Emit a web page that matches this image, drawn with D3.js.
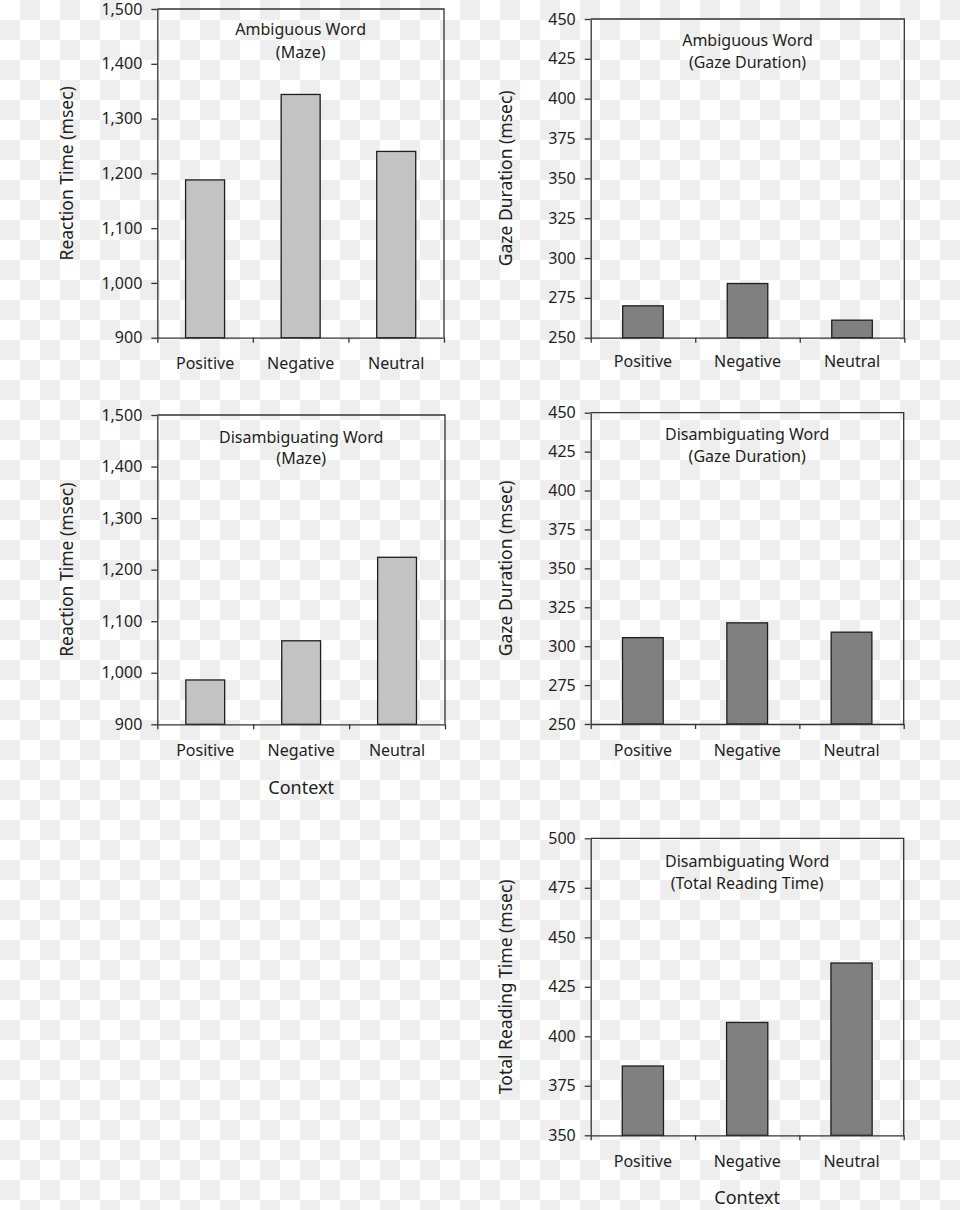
<!DOCTYPE html>
<html>
<head>
<meta charset="utf-8">
<script src="https://cdn.jsdelivr.net/npm/d3@7"></script>
<style>
  html, body { margin: 0; padding: 0; background: #fff; }
  svg { display: block; }
  text { font-family: "Noto Sans", sans-serif; fill: #231f20; }
</style>
</head>
<body>
<svg id="chart" width="960" height="1210"></svg>
<script>
// ---- data ----
const categories = ["Positive", "Negative", "Neutral"];
const mazeAmbiguous = [1188, 1344, 1240];
const gazeAmbiguous = [270, 284, 261];
const mazeDisambiguating = [986, 1062, 1224];
const gazeDisambiguating = [305.5, 315, 309];
const totalDisambiguating = [385, 407, 437];

const rtTicks = [900, 1000, 1100, 1200, 1300, 1400, 1500];
const gazeTicks = [250, 275, 300, 325, 350, 375, 400, 425, 450];
const totalTicks = [350, 375, 400, 425, 450, 475, 500];

const titleAmbiguous = "Ambiguous Word";
const titleDisambiguating = "Disambiguating Word";
const subMaze = "(Maze)";
const subGaze = "(Gaze Duration)";
const subTotal = "(Total Reading Time)";
const yTitleRT = "Reaction Time (msec)";
const yTitleGaze = "Gaze Duration (msec)";
const yTitleTotal = "Total Reading Time (msec)";
const xTitle = "Context";

// ---- layout ----
const svg = d3.select("#chart");
const defs = svg.append("defs");
const pat = defs.append("pattern").attr("id", "checker")
  .attr("width", 40).attr("height", 40).attr("patternUnits", "userSpaceOnUse");
pat.append("rect").attr("width", 40).attr("height", 40).attr("fill", "#ffffff");
pat.append("rect").attr("x", 20).attr("y", 0).attr("width", 20).attr("height", 20).attr("fill", "#eeeeee");
pat.append("rect").attr("x", 0).attr("y", 20).attr("width", 20).attr("height", 20).attr("fill", "#eeeeee");
svg.append("rect").attr("width", 960).attr("height", 1210).attr("fill", "url(#checker)");

const light = "#c3c3c3", dark = "#808080";

const panels = [
  { x0: 157.3, x1: 444, y0: 9, y1: 337.7, values: mazeAmbiguous, ticks: rtTicks, fmt: d3.format(","), bwf: 0.408,
    fill: light, t1: titleAmbiguous, t2: subMaze, t1y: 35, t2y: 58, ytitle: yTitleRT, ytx: 66, lby: 369, ctx: null },
  { x0: 590.7, x1: 904.3, y0: 19, y1: 337.7, values: gazeAmbiguous, ticks: gazeTicks, fmt: d3.format("d"), bwf: 0.388,
    fill: dark, t1: titleAmbiguous, t2: subGaze, t1y: 45.7, t2y: 68, ytitle: yTitleGaze, ytx: 505, lby: 367, ctx: null },
  { x0: 157.3, x1: 445, y0: 415, y1: 724.3, values: mazeDisambiguating, ticks: rtTicks, fmt: d3.format(","), bwf: 0.405,
    fill: light, t1: titleDisambiguating, t2: subMaze, t1y: 442.7, t2y: 464, ytitle: yTitleRT, ytx: 66, lby: 756, ctx: 793.5 },
  { x0: 590.7, x1: 903.7, y0: 412.7, y1: 724, values: gazeDisambiguating, ticks: gazeTicks, fmt: d3.format("d"), bwf: 0.39,
    fill: dark, t1: titleDisambiguating, t2: subGaze, t1y: 439.5, t2y: 462, ytitle: yTitleGaze, ytx: 505, lby: 756, ctx: null },
  { x0: 590.7, x1: 903.7, y0: 838.3, y1: 1135.3, values: totalDisambiguating, ticks: totalTicks, fmt: d3.format("d"), bwf: 0.395,
    fill: dark, t1: titleDisambiguating, t2: subTotal, t1y: 866.7, t2y: 888.5, ytitle: yTitleTotal, ytx: 505, lby: 1167, ctx: 1203.5 }
];

panels.forEach(p => {
  const g = svg.append("g");
  const x = d3.scaleBand().domain(categories).range([p.x0, p.x1]).padding(0);
  const xEdge = d3.scaleLinear().domain([0, categories.length]).range([p.x0, p.x1]);
  const y = d3.scaleLinear().domain([p.ticks[0], p.ticks[p.ticks.length - 1]]).range([p.y1, p.y0]);
  const bw = x.bandwidth() * p.bwf;

  // bars
  g.selectAll("rect.bar").data(p.values).join("rect")
    .attr("class", "bar")
    .attr("x", (d, i) => x(categories[i]) + x.bandwidth() / 2 - bw / 2)
    .attr("width", bw)
    .attr("y", d => y(d))
    .attr("height", d => y(p.ticks[0]) - y(d))
    .attr("fill", p.fill)
    .attr("stroke", "#1e1e1e")
    .attr("stroke-width", 1.3);

  // top and right frame
  g.append("path")
    .attr("d", `M${p.x0},${p.y0}H${p.x1}V${p.y1}`)
    .attr("fill", "none").attr("stroke", "#333").attr("stroke-width", 1.3);

  // left axis
  const yAxis = d3.axisLeft(y).tickValues(p.ticks).tickFormat(p.fmt).tickSize(6).tickSizeOuter(0).tickPadding(9);
  const ya = g.append("g").attr("transform", `translate(${p.x0},0)`).call(yAxis);
  ya.select(".domain").attr("stroke", "#333").attr("stroke-width", 1.3);
  ya.selectAll(".tick line").attr("stroke", "#333").attr("stroke-width", 1.3);
  ya.selectAll(".tick text").attr("font-size", 16).attr("font-family", "Noto Sans").attr("fill", "#231f20");

  // bottom axis with ticks at category boundaries
  const xAxis = d3.axisBottom(xEdge).tickValues(d3.range(categories.length + 1)).tickFormat("").tickSize(5).tickSizeOuter(0);
  const xa = g.append("g").attr("transform", `translate(0,${p.y1})`).call(xAxis);
  xa.select(".domain").attr("stroke", "#333").attr("stroke-width", 1.3);
  xa.selectAll(".tick line").attr("stroke", "#333").attr("stroke-width", 1.3);

  // category labels
  g.selectAll("text.cat").data(categories).join("text")
    .attr("class", "cat")
    .attr("x", d => x(d) + x.bandwidth() / 2)
    .attr("y", p.lby)
    .attr("text-anchor", "middle")
    .attr("font-size", 16)
    .text(d => d);

  // panel title
  const cx = (p.x0 + p.x1) / 2;
  g.append("text").attr("x", cx).attr("y", p.t1y).attr("text-anchor", "middle").attr("font-size", 16).text(p.t1);
  g.append("text").attr("x", cx).attr("y", p.t2y).attr("text-anchor", "middle").attr("font-size", 16).text(p.t2);

  // y axis title
  g.append("text")
    .attr("transform", `translate(${p.ytx},${(p.y0 + p.y1) / 2}) rotate(-90)`)
    .attr("text-anchor", "middle")
    .attr("dominant-baseline", "central")
    .attr("font-size", 17.5)
    .text(p.ytitle);

  if (p.ctx) {
    g.append("text").attr("x", cx).attr("y", p.ctx).attr("text-anchor", "middle").attr("font-size", 18).text(xTitle);
  }
});
</script>
</body>
</html>
